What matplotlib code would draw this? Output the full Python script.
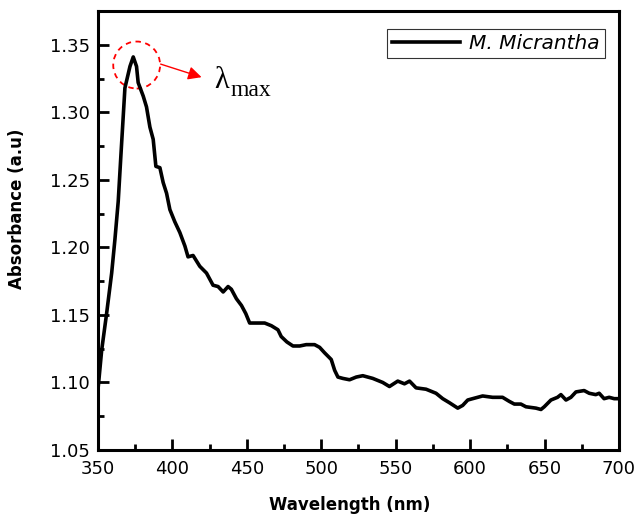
import matplotlib
matplotlib.use("Agg")
import matplotlib.pyplot as plt
from matplotlib.patches import Ellipse
from matplotlib.ticker import MultipleLocator

wavelength = [350, 350.2, 352.5, 355.8, 359.2, 361.4, 363.6, 365.4, 368.1, 371.5,
              373.7, 375.9, 377, 380.4, 382.6, 384.9, 387.1, 388.9, 391.6, 393.8,
              396.1, 398.3, 401.6, 405, 408.4, 410.5, 413.9, 418.4, 422.9, 427.3,
              430.7, 434.1, 437.4, 439.6, 443, 446.4, 449.3, 451.9, 457.5, 462,
              466.5, 470.9, 473.1, 476.9, 481, 485.5, 489.9, 495.5, 498.9, 502.2,
              506.7, 509, 511.2, 514.5, 519, 523.5, 527.9, 534.6, 541.3, 545.8,
              551.4, 555.9, 559.3, 563.7, 570.4, 577.1, 581.6, 586.1, 591.7, 595,
              598.4, 601.7, 608.4, 615.1, 621.8, 626.3, 629.7, 634.1, 637.5, 644.2,
              647.6, 649.8, 654.3, 658.7, 661, 664.4, 667.7, 671.1, 676.6, 680,
              684.4, 686.7, 690, 693.4, 696.8, 700]
absorbance = [1.097, 1.097, 1.124, 1.151, 1.181, 1.206, 1.234, 1.268, 1.318, 1.334,
              1.341, 1.334, 1.322, 1.312, 1.304, 1.289, 1.280, 1.260, 1.259, 1.248,
              1.240, 1.228, 1.219, 1.211, 1.201, 1.193, 1.194, 1.186, 1.181, 1.172,
              1.171, 1.167, 1.171, 1.169, 1.162, 1.157, 1.151, 1.144, 1.144, 1.144,
              1.142, 1.139, 1.134, 1.130, 1.127, 1.127, 1.128, 1.128, 1.126, 1.122,
              1.117, 1.109, 1.104, 1.103, 1.102, 1.104, 1.105, 1.103, 1.100, 1.097,
              1.101, 1.099, 1.101, 1.096, 1.095, 1.092, 1.088, 1.085, 1.081, 1.083,
              1.087, 1.088, 1.090, 1.089, 1.089, 1.086, 1.084, 1.084, 1.082, 1.081,
              1.080, 1.082, 1.087, 1.089, 1.091, 1.087, 1.089, 1.093, 1.094, 1.092,
              1.091, 1.092, 1.088, 1.089, 1.088, 1.088]

series_label = "M. Micrantha"
x_label = "Wavelength (nm)"
y_label = "Absorbance (a.u)"
x_ticks = [350, 400, 450, 500, 550, 600, 650, 700]
y_ticks = [1.05, 1.10, 1.15, 1.20, 1.25, 1.30, 1.35]

fig = plt.figure(figsize=(6.37, 5.17), dpi=100)
ax = fig.add_axes([0.1538, 0.1296, 0.8179, 0.8491])

ax.plot(wavelength, absorbance, color="black", lw=2.6, label=series_label,
        solid_joinstyle="round")

ax.set_xlim(350, 700)
ax.set_ylim(1.05, 1.375)
ax.set_xticks(x_ticks)
ax.set_yticks(y_ticks)
ax.set_yticklabels([f"{v:.2f}" for v in y_ticks])
ax.xaxis.set_minor_locator(MultipleLocator(25))
ax.yaxis.set_minor_locator(MultipleLocator(0.025))
ax.tick_params(which="both", direction="in", top=False, right=False, width=2,
               labelsize=13, colors="black")
ax.tick_params(which="major", length=8)
ax.tick_params(which="minor", length=4)
ax.tick_params(axis="x", pad=7)
ax.tick_params(axis="y", pad=6)
for s in ax.spines.values():
    s.set_linewidth(2.2)

ax.set_xlabel(x_label, fontsize=12, fontweight="bold")
ax.set_ylabel(y_label, fontsize=12, fontweight="bold")
ax.xaxis.set_label_coords(0.484, -0.105)
ax.yaxis.set_label_coords(-0.138, 0.549)

leg = ax.legend(loc="upper right", bbox_to_anchor=(0.973, 0.959), borderaxespad=0,
                fancybox=False, frameon=True, handlelength=3.4, handletextpad=0.45,
                borderpad=0.25, prop={"size": 14.5, "style": "italic"})
leg.get_frame().set_edgecolor("black")
leg.get_frame().set_linewidth(0.8)

# lambda max marker
ax.add_patch(Ellipse((376, 1.335), 31.5, 0.0348, fill=False, edgecolor="red",
                     linestyle=(0, (3, 2.5)), lw=1.3))
ax.annotate("", xy=(419.6, 1.326), xytext=(392.1, 1.3357),
            arrowprops=dict(arrowstyle="-|>", mutation_scale=20, color="red",
                            lw=1.0, shrinkA=0, shrinkB=0))
ax.text(428.3, 1.318, "λ", fontsize=22, family="Liberation Serif",
        va="baseline", ha="left")
ax.text(438.8, 1.312, "max", fontsize=17, family="Liberation Serif",
        va="baseline", ha="left")

fig.savefig("out.png", dpi=100)
